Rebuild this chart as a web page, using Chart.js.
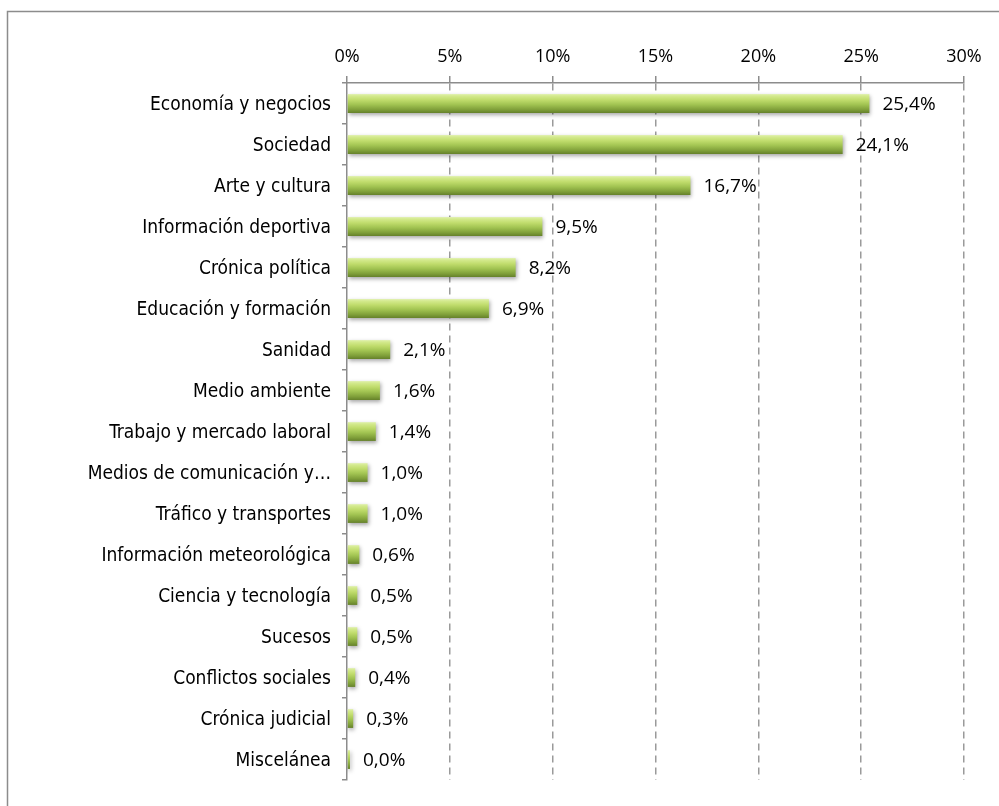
<!DOCTYPE html>
<html>
<head>
<meta charset="utf-8">
<script src="https://cdn.jsdelivr.net/npm/chart.js@4/dist/chart.umd.min.js"></script>
<style>
  html, body { margin: 0; padding: 0; background: #fff; }
  #wrap { position: relative; width: 999px; height: 806px; }
</style>
</head>
<body>
<div id="wrap"><canvas id="chart" width="999" height="806"></canvas></div>
<script>
// categories and values (percent)
let categories = [
  'Economía y negocios',
  'Sociedad',
  'Arte y cultura',
  'Información deportiva',
  'Crónica política',
  'Educación y formación',
  'Sanidad',
  'Medio ambiente',
  'Trabajo y mercado laboral',
  'Medios de comunicación y…',
  'Tráfico y transportes',
  'Información meteorológica',
  'Ciencia y tecnología',
  'Sucesos',
  'Conflictos sociales',
  'Crónica judicial',
  'Miscelánea'
]
let values = [25.4, 24.1, 16.7, 9.5, 8.2, 6.9, 2.1, 1.6, 1.4, 1.0, 1.0, 0.6, 0.5, 0.5, 0.4, 0.3, 0.0]
let tickValues = [0, 5, 10, 15, 20, 25, 30]

let catFont = "'Liberation Sans Narrow', 'DejaVu Sans Condensed', 'Liberation Sans', sans-serif"
let numFont = "'Open Sans', 'Noto Sans', sans-serif"

const fmt = v => v.toFixed(1).replace('.', ',') + '%'

// vertical gradient for each bar (cylinder look)
function barFill(context) {
  let chart = context.chart
  let yScale = chart.scales.y
  if (!yScale || context.dataIndex === undefined) return '#9bbb59'
  let cy = yScale.getPixelForValue(context.dataIndex)
  if (!isFinite(cy)) return '#9bbb59'
  let h = 10
  let g = chart.ctx.createLinearGradient(0, cy - h, 0, cy + h)
  g.addColorStop(0, '#e6f3c0')
  g.addColorStop(0.12, '#d4ea8e')
  g.addColorStop(0.32, '#c0dc6c')
  g.addColorStop(0.55, '#a2c452')
  g.addColorStop(0.8, '#80a03a')
  g.addColorStop(1, '#617c28')
  return g
}

// frame lines (left + top)
const framePlugin = {
  id: 'frame',
  beforeDraw(chart) {
    let ctx = chart.ctx
    ctx.save()
    ctx.strokeStyle = '#8c8c8c'
    ctx.lineWidth = 1.5
    ctx.beginPath()
    ctx.moveTo(7.5, 806)
    ctx.lineTo(7.5, 11.5)
    ctx.lineTo(999, 11.5)
    ctx.stroke()
    ctx.restore()
  }
}

// soft shadow under bars
const shadowPlugin = {
  id: 'barShadow',
  beforeDatasetDraw(chart) {
    let ctx = chart.ctx
    ctx.save()
    ctx.shadowColor = 'rgba(0,0,0,0.35)'
    ctx.shadowBlur = 4
    ctx.shadowOffsetX = 1
    ctx.shadowOffsetY = 2
  },
  afterDatasetDraw(chart) {
    chart.ctx.restore()
  }
}

// value labels right of bars
const valueLabels = {
  id: 'valueLabels',
  afterDatasetsDraw(chart) {
    let ctx = chart.ctx
    let meta = chart.getDatasetMeta(0)
    ctx.save()
    ctx.font = '19px ' + numFont
    ctx.fillStyle = '#000'
    ctx.textAlign = 'left'
    ctx.textBaseline = 'middle'
    meta.data.forEach((bar, i) => {
      ctx.fillText(fmt(values[i]), bar.x + 13, bar.y + 1)
    })
    ctx.restore()
  }
}

let ctx = document.getElementById('chart').getContext('2d')
new Chart(ctx, {
  type: 'bar',
  data: {
    labels: categories,
    datasets: [{
      data: values,
      backgroundColor: barFill,
      borderWidth: 0,
      barPercentage: 0.46,
      categoryPercentage: 1,
      minBarLength: 3
    }]
  },
  options: {
    indexAxis: 'y',
    responsive: false,
    animation: false,
    devicePixelRatio: 1,
    layout: { padding: { left: 0, right: 35, top: 0, bottom: 26 } },
    plugins: { legend: { display: false }, tooltip: { enabled: false } },
    scales: {
      x: {
        position: 'top',
        min: 0,
        max: 30,
        afterFit(scale) { scale.height = 83 },
        afterBuildTicks(scale) { scale.ticks = tickValues.map(v => ({ value: v })) },
        ticks: {
          padding: 8,
          color: '#000',
          font: { family: numFont, size: 18 },
          callback: v => v + '%'
        },
        grid: {
          color: ctx => ctx.index === 0 ? 'rgba(0,0,0,0)' : '#9a9a9a',
          lineWidth: 1.5,
          tickColor: '#8c8c8c',
          tickLength: 7
        },
        border: { color: '#8c8c8c', width: 1.5, dash: [7, 5] }
      },
      y: {
        afterFit(scale) { scale.width = 347 },
        ticks: {
          padding: 11,
          labelOffset: 2,
          color: '#000',
          font: { family: catFont, size: 19 }
        },
        grid: {
          offset: true,
          drawOnChartArea: false,
          tickColor: '#8c8c8c',
          tickLength: 5,
          lineWidth: 1.5
        },
        border: { color: '#8c8c8c', width: 1.5 }
      }
    }
  },
  plugins: [framePlugin, shadowPlugin, valueLabels]
})
</script>
</body>
</html>
